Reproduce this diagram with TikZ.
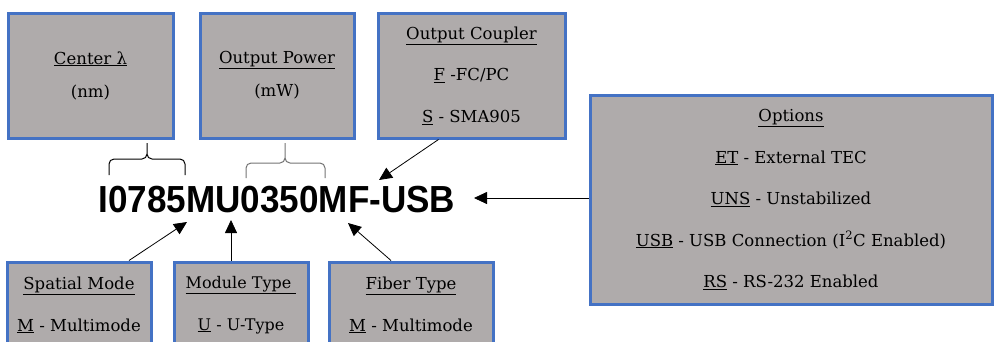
\documentclass[tikz,border=0pt]{standalone}
\usepackage{fontspec}
\setmainfont{DejaVu Serif}
\newfontfamily\partfont{Liberation Sans}
\usetikzlibrary{arrows.meta}

\definecolor{boxgray}{HTML}{AFABAB}
\definecolor{boxblue}{HTML}{4472C4}

\begin{document}
\begin{tikzpicture}[x=1pt,y=-1pt,
  infobox/.style={draw=boxblue, line width=3pt, fill=boxgray, inner sep=0pt,
    align=center, font=\fontsize{16.5}{41.5}\selectfont},
  pointer/.style={-{Triangle[length=13pt,width=12pt]}, line width=0.8pt}]

\useasboundingbox (0,0) rectangle (995,341);
\clip (0,0) rectangle (995,341);

% Draw the top boxes
\node[infobox, minimum width=165pt, minimum height=125pt,
  font=\fontsize{16.5}{33}\selectfont] (center) at (90.5,75.5)
  {\underline{Center λ}\\(nm)};
\node[infobox, minimum width=154pt, minimum height=125pt,
  font=\fontsize{16.5}{33}\selectfont] (power) at (277,75.5)
  {\underline{Output Power}\\(mW)};
\node[infobox, minimum width=187pt, minimum height=125pt] (coupler) at (471.5,75.5)
  {\underline{Output Coupler}\\\underline{F} -FC/PC\\\underline{S} - SMA905};

% Draw the options box
\node[infobox, minimum width=402pt, minimum height=209pt] (options) at (791,199.5)
  {\underline{Options}\\\underline{ET} - External TEC\\\underline{UNS} - Unstabilized\\
   \underline{USB} - USB Connection (I\textsuperscript{2}C Enabled)\\
   \underline{RS} - RS-232 Enabled};

% Draw the bottom boxes (cut by the page edge)
\node[infobox, minimum width=144pt, minimum height=86pt] (spatial) at (79,305)
  {\underline{Spatial Mode}\\\underline{M} - Multimode};
\node[infobox, minimum width=134pt, minimum height=86pt,
  font=\fontsize{16}{41.5}\selectfont] (module) at (241,305)
  {\underline{Module Type }\\\underline{U} - U-Type};
\node[infobox, minimum width=164pt, minimum height=86pt] (fiber) at (411,305)
  {\underline{Fiber Type}\\\underline{M} - Multimode};

% Draw the part number
\node[inner sep=0pt, font=\partfont\bfseries\fontsize{37.7}{40}\selectfont] (part) at (277,200)
  {\scalebox{0.93}[1]{I0785MU0350MF-USB}};

% Draw the braces
\draw[line width=1pt, rounded corners=5pt] (109,175) -- (109,159) -- (147,159) -- (147,143)
  (185,175) -- (185,159) -- (147,159) -- (147,143);
\draw[line width=1pt, rounded corners=5pt, black!55] (246,178) -- (246,163) -- (285,163) -- (285,143)
  (325,178) -- (325,163) -- (285,163) -- (285,143);

% Draw the arrows
\coordinate (tipcoupler) at (379,180);
\coordinate (tipspatial) at (187,222);
\coordinate (tipmodule) at (231,220);
\coordinate (tipfiber) at (348,223);
\coordinate (tipoptions) at (474,198);
\draw[pointer] (coupler.south) ++(-33,0) -- (tipcoupler);
\draw[pointer] (spatial.north) ++(50,0) -- (tipspatial);
\draw[pointer] (module.north) ++(-10,0) -- (tipmodule);
\draw[pointer] (fiber.north) ++(-20,0) -- (tipfiber);
\draw[pointer] (options.west |- tipoptions) -- (tipoptions);

\end{tikzpicture}
\end{document}
